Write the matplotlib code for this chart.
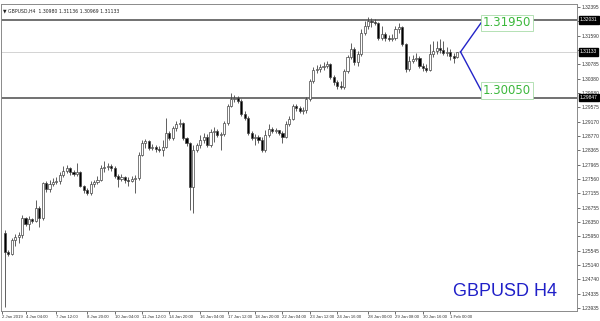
import numpy as np
import matplotlib.pyplot as plt

# GBPUSD H4 candles, 3 Jan - 1 Feb 2019
opens = [1.26039, 1.25507, 1.25451, 1.25843, 1.25927, 1.25983, 1.26459, 1.26291, 1.26431, 1.26375,
         1.26739, 1.26459, 1.27439, 1.27271, 1.27411, 1.27467, 1.27495, 1.27663, 1.27775, 1.27859,
         1.27747, 1.27691, 1.27747, 1.27355, 1.27243, 1.27159, 1.27411, 1.27467, 1.27523, 1.27859,
         1.27887, 1.27915, 1.27859, 1.27635, 1.27551, 1.27607, 1.27523, 1.27495, 1.27551, 1.27579,
         1.28223, 1.28559, 1.28615, 1.28419, 1.28447, 1.28391, 1.28363, 1.28447, 1.28839, 1.28699,
         1.29007, 1.29119, 1.29147, 1.28699, 1.28559, 1.27327, 1.28363, 1.28503, 1.28643, 1.28727,
         1.28503, 1.28867, 1.28895, 1.28783, 1.28811, 1.29147, 1.29623, 1.29819, 1.29847, 1.29763,
         1.29399, 1.29287, 1.28839, 1.28699, 1.28727, 1.28643, 1.28363, 1.28783, 1.28979, 1.28895,
         1.28923, 1.28839, 1.28727, 1.29119, 1.29259, 1.29623, 1.29567, 1.29483, 1.29511, 1.29819,
         1.30323, 1.30631, 1.30659, 1.30715, 1.30743, 1.30799, 1.30435, 1.30295, 1.30183, 1.30155,
         1.30603, 1.30995, 1.31219, 1.30855, 1.31079, 1.31667, 1.31863, 1.32003, 1.31975, 1.31947,
         1.31527, 1.31639, 1.31527, 1.31499, 1.31527, 1.31779, 1.31835, 1.31359, 1.30659, 1.30883,
         1.30939, 1.30967, 1.30743, 1.30687, 1.30631, 1.31079, 1.31163, 1.31247, 1.31191, 1.31107,
         1.31135, 1.31023, 1.30980]
highs = [1.26123, 1.25563, 1.25899, 1.26011, 1.26067, 1.26543, 1.26487, 1.26515, 1.26459, 1.26963,
         1.26795, 1.27467, 1.27495, 1.27523, 1.27579, 1.27607, 1.27747, 1.27915, 1.27943, 1.27887,
         1.27803, 1.27999, 1.27775, 1.27383, 1.27299, 1.27495, 1.27523, 1.27635, 1.27943, 1.28055,
         1.27999, 1.27971, 1.27915, 1.27691, 1.27691, 1.27635, 1.27607, 1.27635, 1.27663, 1.28307,
         1.28643, 1.28671, 1.28643, 1.28531, 1.28503, 1.28475, 1.28643, 1.29287, 1.28895, 1.29063,
         1.29203, 1.29259, 1.29175, 1.28727, 1.28587, 1.28503, 1.28559, 1.28783, 1.28839, 1.28811,
         1.28979, 1.29035, 1.28979, 1.28867, 1.29203, 1.29679, 1.29987, 1.29931, 1.29903, 1.29819,
         1.29483, 1.29343, 1.28895, 1.28811, 1.28783, 1.28727, 1.28923, 1.29119, 1.29035, 1.29007,
         1.28951, 1.28895, 1.29203, 1.29343, 1.29679, 1.29679, 1.29623, 1.29595, 1.29875, 1.30379,
         1.30715, 1.30771, 1.30799, 1.30855, 1.30883, 1.30827, 1.30491, 1.30351, 1.30323, 1.30659,
         1.31051, 1.31387, 1.31275, 1.31163, 1.31779, 1.32003, 1.32115, 1.32087, 1.32059, 1.31975,
         1.31863, 1.31695, 1.31611, 1.31639, 1.31863, 1.31947, 1.31863, 1.31387, 1.31023, 1.31051,
         1.31107, 1.31023, 1.30827, 1.30799, 1.31359, 1.31443, 1.31443, 1.31499, 1.31443, 1.31275,
         1.31219, 1.31107, 1.31136]
lows = [1.23967, 1.25395, 1.25423, 1.25675, 1.25759, 1.25899, 1.26235, 1.26123, 1.26319, 1.26347,
        1.26207, 1.26403, 1.27187, 1.27187, 1.27355, 1.27411, 1.27411, 1.27607, 1.27719, 1.27663,
        1.27635, 1.27635, 1.27327, 1.27159, 1.27103, 1.27103, 1.27327, 1.27411, 1.27495, 1.27747,
        1.27803, 1.27775, 1.27579, 1.27327, 1.27495, 1.27439, 1.27355, 1.27467, 1.27159, 1.27523,
        1.28195, 1.28419, 1.28363, 1.28363, 1.28307, 1.28307, 1.28195, 1.28419, 1.28643, 1.28643,
        1.28895, 1.29035, 1.28643, 1.28475, 1.26683, 1.26599, 1.28307, 1.28419, 1.28559, 1.28447,
        1.28447, 1.28587, 1.28727, 1.28363, 1.28755, 1.29091, 1.29595, 1.29735, 1.29707, 1.29343,
        1.29231, 1.28783, 1.28643, 1.28503, 1.28559, 1.28307, 1.28307, 1.28727, 1.28839, 1.28839,
        1.28783, 1.28559, 1.28699, 1.29063, 1.29231, 1.29483, 1.29427, 1.29399, 1.29427, 1.29763,
        1.30267, 1.30547, 1.30575, 1.30631, 1.30687, 1.30379, 1.30211, 1.30099, 1.30099, 1.30099,
        1.30547, 1.30939, 1.30771, 1.30743, 1.31023, 1.31611, 1.31779, 1.31835, 1.31891, 1.31471,
        1.31471, 1.31443, 1.31443, 1.31443, 1.31471, 1.31667, 1.31303, 1.30575, 1.30603, 1.30827,
        1.30883, 1.30687, 1.30603, 1.30575, 1.30603, 1.30995, 1.31079, 1.31107, 1.31051, 1.31023,
        1.30911, 1.30827, 1.30969]
closes = [1.25507, 1.25451, 1.25843, 1.25927, 1.25983, 1.26459, 1.26291, 1.26431, 1.26375, 1.26739,
          1.26459, 1.27439, 1.27271, 1.27411, 1.27467, 1.27495, 1.27663, 1.27775, 1.27859, 1.27747,
          1.27691, 1.27747, 1.27355, 1.27243, 1.27159, 1.27411, 1.27467, 1.27523, 1.27859, 1.27887,
          1.27915, 1.27859, 1.27635, 1.27551, 1.27607, 1.27523, 1.27495, 1.27551, 1.27579, 1.28223,
          1.28559, 1.28615, 1.28419, 1.28447, 1.28391, 1.28363, 1.28447, 1.28839, 1.28699, 1.29007,
          1.29119, 1.29147, 1.28699, 1.28559, 1.27327, 1.28363, 1.28503, 1.28643, 1.28727, 1.28503,
          1.28867, 1.28895, 1.28783, 1.28811, 1.29147, 1.29623, 1.29819, 1.29847, 1.29763, 1.29399,
          1.29287, 1.28839, 1.28699, 1.28727, 1.28643, 1.28363, 1.28783, 1.28979, 1.28895, 1.28923,
          1.28839, 1.28727, 1.29119, 1.29259, 1.29623, 1.29567, 1.29483, 1.29511, 1.29819, 1.30323,
          1.30631, 1.30659, 1.30715, 1.30743, 1.30799, 1.30435, 1.30295, 1.30183, 1.30155, 1.30603,
          1.30995, 1.31219, 1.30855, 1.31079, 1.31667, 1.31863, 1.32003, 1.31975, 1.31947, 1.31527,
          1.31639, 1.31527, 1.31499, 1.31527, 1.31779, 1.31835, 1.31359, 1.30659, 1.30883, 1.30939,
          1.30967, 1.30743, 1.30687, 1.30631, 1.31079, 1.31163, 1.31247, 1.31191, 1.31107, 1.31135,
          1.31023, 1.30967, 1.31133]

price_ticks = [1.32395, 1.31990, 1.31590, 1.31185, 1.30785, 1.30380, 1.29980, 1.29575, 1.29170,
               1.28770, 1.28365, 1.27965, 1.27560, 1.27155, 1.26755, 1.26350, 1.25950, 1.25545,
               1.25140, 1.24740, 1.24335, 1.23935]
time_labels = ["2 Jan 2019", "4 Jan 04:00", "7 Jan 12:00", "8 Jan 20:00", "10 Jan 04:00",
               "11 Jan 12:00", "14 Jan 20:00", "16 Jan 04:00", "17 Jan 12:00", "18 Jan 20:00",
               "22 Jan 04:00", "23 Jan 12:00", "24 Jan 16:00", "28 Jan 00:00", "29 Jan 08:00",
               "30 Jan 16:00", "1 Feb 00:00"]
time_bars = [-1, 6, 15, 24, 32, 40, 48, 57, 65, 73, 81, 89, 97, 106, 114, 122, 130]

resistance = 1.32031
support = 1.29847
target_up = 1.31950
target_down = 1.30050

xfont = dict(family='Liberation Sans', size=3.1)
yfont = dict(family='Liberation Sans', size=3.5)

fig = plt.figure(figsize=(6, 3.21), dpi=100)
ax = fig.add_axes([1/600, 10/321, 576/600, 307/321])

o = np.array(opens)
h = np.array(highs)
l = np.array(lows)
c = np.array(closes)
x = np.arange(len(c))
bull = c >= o

# wicks then bodies
ax.vlines(x, l, h, color='#454545', lw=0.6, zorder=2)
body = np.maximum(np.abs(c - o), 0.00006)
ax.bar(x, body, bottom=np.minimum(o, c), width=0.62,
       color=np.where(bull, 'white', 'black'), edgecolor='#454545', lw=0.5, zorder=3)

# support / resistance and last price line
ax.axhline(resistance, color='#666666', lw=1.3, zorder=1)
ax.axhline(support, color='#666666', lw=1.3, zorder=1)
ax.axhline(c[-1], color='#cccccc', lw=0.6, zorder=1)

# projection lines to the two targets
x0 = len(c)
ax.plot([x0, x0 + 6], [c[-1], target_up], color='#2424c8', lw=1.0)
ax.plot([x0, x0 + 6], [c[-1], target_down], color='#2424c8', lw=1.0)
for t in (target_up, target_down):
    ax.text(x0 + 6.6, t, f"{t:.5f}", color='#3cb83c', fontsize=8.5, va='center', ha='left',
            bbox=dict(boxstyle='square,pad=0.15', fc='white', ec='#a8dca8', lw=0.6))

ax.set_xlim(-1.17, 167)
ax.set_ylim(1.23849, 1.32479)

ax.yaxis.tick_right()
ax.set_yticks(price_ticks)
ax.set_yticklabels([f"{p:.5f}" for p in price_ticks], fontdict=yfont)
ax.set_xticks(time_bars)
ax.set_xticklabels(time_labels, ha='left', fontdict=xfont)
ax.tick_params(axis='both', length=2, width=0.5, colors='#333333', pad=1)
for s in ax.spines.values():
    s.set_color('#8a8a8a')
    s.set_linewidth(0.7)

# price boxes on the scale
for p in (resistance, c[-1], support):
    ax.text(1.005, p, f"{p:.5f}", transform=ax.get_yaxis_transform(), fontdict=yfont,
            color='white', va='center', ha='left', zorder=5,
            bbox=dict(boxstyle='square,pad=0.25', fc='black', ec='black'))

ax.text(0.004, 0.985, "\u25bc GBPUSD,H4  1.30980 1.31136 1.30969 1.31133", transform=ax.transAxes,
        fontsize=3.3, color='#222222', va='top', ha='left')
ax.text(0.965, 0.035, "GBPUSD H4", transform=ax.transAxes, fontsize=13,
        family='Liberation Sans', color='#2020c8', ha='right', va='bottom')

fig.savefig('out.png', dpi=100)
